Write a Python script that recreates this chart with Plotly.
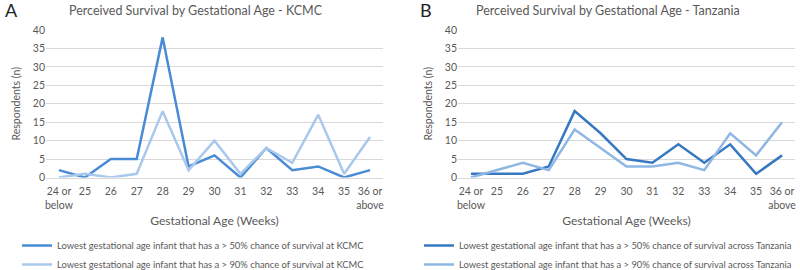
import plotly.graph_objects as go

categories = ["24 or<br>below", "25", "26", "27", "28", "29", "30", "31", "32", "33", "34", "35", "36 or<br>above"]
kcmc_50 = [2, 0, 5, 5, 38, 3, 6, 0, 8, 2, 3, 0, 2]
kcmc_90 = [0, 1, 0, 1, 18, 2, 10, 1, 8, 4, 17, 1, 11]
tz_50 = [1, 1, 1, 3, 18, 12, 5, 4, 9, 4, 9, 1, 6]
tz_90 = [0, 2, 4, 2, 13, 8, 3, 3, 4, 2, 12, 6, 15]
y_ticks = [0, 5, 10, 15, 20, 25, 30, 35, 40]

FONT = "Lato"
GRAY = "#595959"
W, H = 800, 270

fig = go.Figure()

fig.add_trace(go.Scatter(x=categories, y=kcmc_50, mode="lines", line=dict(color="#4a8bd6", width=2.5),
                         name="Lowest gestational age infant that has a > 50% chance of survival at KCMC",
                         xaxis="x", yaxis="y", legend="legend"))
fig.add_trace(go.Scatter(x=categories, y=kcmc_90, mode="lines", line=dict(color="#a9c8ec", width=2.5),
                         name="Lowest gestational age infant that has a > 90% chance of survival at KCMC",
                         xaxis="x", yaxis="y", legend="legend"))
fig.add_trace(go.Scatter(x=categories, y=tz_50, mode="lines", line=dict(color="#3679c0", width=2.5),
                         name="Lowest gestational age infant that has a > 50% chance of survival across Tanzania",
                         xaxis="x2", yaxis="y2", legend="legend2"))
fig.add_trace(go.Scatter(x=categories, y=tz_90, mode="lines", line=dict(color="#8fb7e4", width=2.5),
                         name="Lowest gestational age infant that has a > 90% chance of survival across Tanzania",
                         xaxis="x2", yaxis="y2", legend="legend2"))

def px(x):
    return x / W

def py(y):
    return (H - y) / H

xdomA = [px(46), px(383)]
xdomB = [px(458), px(795)]
ydom = [py(177.5), py(30)]

axis_common_x = dict(type="category", range=[-0.5, 12.5], showgrid=False, zeroline=False,
                     showline=True, linecolor="#d9d9d9", linewidth=1, ticks="", automargin=False,
                     ticklabelstandoff=4,
                     tickfont=dict(family=FONT, size=10.5, color=GRAY),
                     title=dict(text="Gestational Age (Weeks)", font=dict(family=FONT, size=12, color=GRAY), standoff=6))
axis_common_y = dict(range=[0, 40], tickvals=y_ticks, showgrid=True, gridcolor="#d9d9d9", gridwidth=1,
                     zeroline=False, showline=False, ticks="", automargin=False,
                     tickfont=dict(family=FONT, size=10.5, color=GRAY),
                     title=dict(text="Respondents (n)", font=dict(family=FONT, size=10.5, color=GRAY), standoff=10))

leg_font = dict(family=FONT, size=9.4, color=GRAY)
fig.update_layout(
    width=W, height=H,
    margin=dict(l=0, r=0, t=0, b=0, autoexpand=False),
    paper_bgcolor="white", plot_bgcolor="white",
    font=dict(family=FONT, color=GRAY),
    xaxis=dict(domain=xdomA, anchor="y", **axis_common_x),
    yaxis=dict(domain=ydom, anchor="x", **axis_common_y),
    xaxis2=dict(domain=xdomB, anchor="y2", **axis_common_x),
    yaxis2=dict(domain=ydom, anchor="x2", **axis_common_y),
    legend=dict(x=px(17), y=py(231), xanchor="left", yanchor="top", orientation="v",
                font=leg_font, tracegroupgap=0, itemwidth=30, bgcolor="rgba(0,0,0,0)"),
    legend2=dict(x=px(419), y=py(231), xanchor="left", yanchor="top", orientation="v",
                 font=leg_font, tracegroupgap=0, itemwidth=30, bgcolor="rgba(0,0,0,0)"),
    showlegend=True,
)

annotations = [
    dict(text="Perceived Survival by Gestational Age - KCMC", x=px(196), y=py(10), xref="paper", yref="paper",
         showarrow=False, font=dict(family=FONT, size=12.5, color=GRAY), xanchor="center", yanchor="middle"),
    dict(text="Perceived Survival by Gestational Age - Tanzania", x=px(608), y=py(10), xref="paper", yref="paper",
         showarrow=False, font=dict(family=FONT, size=12.5, color=GRAY), xanchor="center", yanchor="middle"),
    dict(text="A", x=px(3), y=py(10), xref="paper", yref="paper", showarrow=False,
         font=dict(family=FONT, size=18, color="#222222"), xanchor="left", yanchor="middle"),
    dict(text="B", x=px(418), y=py(10), xref="paper", yref="paper", showarrow=False,
         font=dict(family=FONT, size=18, color="#222222"), xanchor="left", yanchor="middle"),
]
fig.update_layout(annotations=annotations)

fig.write_html("out.html")
